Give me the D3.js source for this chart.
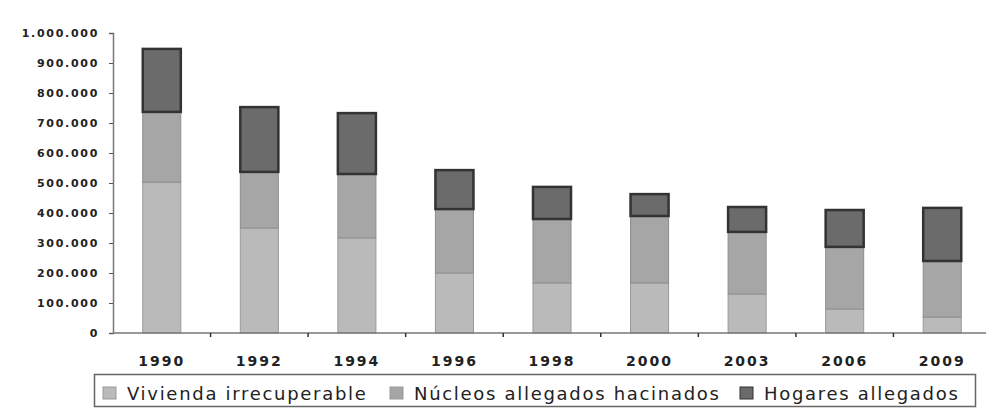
<!DOCTYPE html>
<html>
<head>
<meta charset="utf-8">
<script src="https://cdn.jsdelivr.net/npm/d3@7"></script>
<style>
  body { margin: 0; background: #fff; }
  svg { display: block; }
</style>
</head>
<body>
<div id="chart"></div>
<script>
// data (units: households)
let years = ["1990", "1992", "1994", "1996", "1998", "2000", "2003", "2006", "2009"];
let vivienda = [503000, 350000, 317000, 200000, 167000, 167000, 130000, 80000, 53000];
let nucleos = [234000, 187000, 213000, 213000, 213000, 223000, 207000, 207000, 187000];
let hogares = [210000, 216000, 203000, 130000, 107000, 73000, 83000, 123000, 177000];
let seriesNames = ["Vivienda irrecuperable", "Núcleos allegados hacinados", "Hogares allegados"];
let yTicks = [0, 100000, 200000, 300000, 400000, 500000, 600000, 700000, 800000, 900000, 1000000];

let width = 986, height = 409;
let fills = ["#bababa", "#a6a6a6", "#6b6b6b"];
let strokes = ["#9a9a9a", "#8e8e8e", "#333"];

let rows = years.map((y, i) => ({year: y, v: vivienda[i], n: nucleos[i], h: hogares[i]}));
let stack = d3.stack().keys(["v", "n", "h"])(rows);

let x = d3.scaleBand().domain(years).range([113, 991]).padding(0);
let y = d3.scaleLinear().domain([0, 1000000]).range([333, 33]);
let barW = x.bandwidth() * 0.39;

let loc = d3.formatLocale({decimal: ",", thousands: ".", grouping: [3], currency: ["", ""]});
let fmt = loc.format(",");

let svg = d3.create("svg").attr("width", width).attr("height", height);

// bars
svg.append("g")
    .selectAll("g")
    .data(stack)
    .join("g")
        .attr("fill", (d, i) => fills[i])
        .attr("stroke", (d, i) => strokes[i])
        .attr("stroke-width", (d, i) => i == 2 ? 2.5 : 1)
    .selectAll("rect")
    .data(d => d)
    .join("rect")
        .attr("x", d => x(d.data.year) + (x.bandwidth() - barW) / 2)
        .attr("y", d => y(d[1]))
        .attr("width", barW)
        .attr("height", d => y(d[0]) - y(d[1]));

// y axis
let yAxis = d3.axisLeft(y).tickValues(yTicks).tickFormat(fmt).tickSize(4).tickPadding(10);
svg.append("g")
    .attr("transform", "translate(113,0)")
    .call(yAxis)
    .call(g => g.select(".domain").attr("stroke", "#777").attr("stroke-width", 1.5))
    .call(g => g.selectAll(".tick line").attr("stroke", "#555"))
    .call(g => g.selectAll(".tick text")
        .attr("fill", "#222")
        .style("font", "bold 11px 'DejaVu Sans'")
        .style("letter-spacing", "1.7px"));

// x axis
let xg = svg.append("g");
xg.append("line")
    .attr("x1", 113).attr("x2", width)
    .attr("y1", y(0)).attr("y2", y(0))
    .attr("stroke", "#777").attr("stroke-width", 1.5);
xg.selectAll("line.tk")
    .data(years.slice(1))
    .join("line")
        .attr("class", "tk")
        .attr("x1", d => x(d)).attr("x2", d => x(d))
        .attr("y1", y(0)).attr("y2", y(0) + 4)
        .attr("stroke", "#333").attr("stroke-width", 1.5);
xg.selectAll("text")
    .data(years)
    .join("text")
        .attr("x", d => x(d) + x.bandwidth() / 2)
        .attr("y", 366)
        .attr("text-anchor", "middle")
        .attr("fill", "#222")
        .style("font", "bold 14px 'DejaVu Sans'")
        .style("letter-spacing", "2px")
        .text(d => d);

// legend
let lg = svg.append("g");
lg.append("rect")
    .attr("x", 94.5).attr("y", 374.5)
    .attr("width", 881).attr("height", 32)
    .attr("fill", "none").attr("stroke", "#666").attr("stroke-width", 1.5);
let legendX = [103, 390, 740];
let item = lg.selectAll("g")
    .data(seriesNames)
    .join("g")
        .attr("transform", (d, i) => `translate(${legendX[i]},0)`);
item.append("rect")
    .attr("x", 0).attr("y", 387)
    .attr("width", 13).attr("height", 12)
    .attr("fill", (d, i) => fills[i])
    .attr("stroke", (d, i) => i == 2 ? "#333" : "#999");
item.append("text")
    .attr("x", 24).attr("y", 400)
    .attr("fill", "#222")
    .style("font", "18px 'DejaVu Sans'")
    .style("letter-spacing", "1.7px")
    .text(d => d);

document.getElementById("chart").appendChild(svg.node());
</script>
</body>
</html>
